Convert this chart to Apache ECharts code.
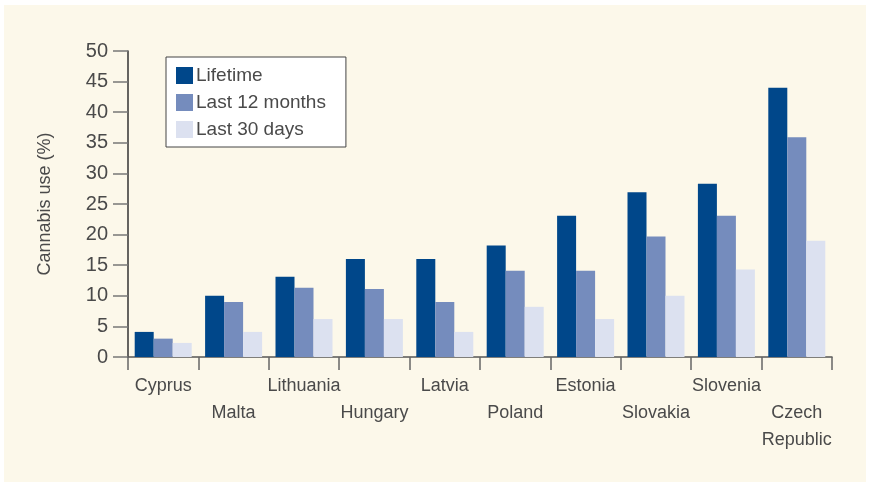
<!DOCTYPE html>
<html>
<head>
<meta charset="utf-8">
<script src="https://cdn.jsdelivr.net/npm/echarts@6/dist/echarts.min.js"></script>
<style>
	body { margin: 0; background: #ffffff; }
	.panel { position: absolute; left: 4px; top: 5px; width: 862px; height: 477px; background: #fcf8ea; }
	#chart { position: absolute; left: 0; top: 0; width: 870px; height: 486px; }
</style>
</head>
<body>
<div class="panel"></div>
<div id="chart"></div>
<script>
// countries, left to right
const countries = ['Cyprus', 'Malta', 'Lithuania', 'Hungary', 'Latvia', 'Poland', 'Estonia', 'Slovakia', 'Slovenia', 'Czech\nRepublic'];
const lifetime = [4.1, 10, 13.1, 16, 16, 18.2, 23.1, 26.9, 28.3, 44];
const last12 = [3.0, 9, 11.3, 11.1, 9, 14.1, 14.1, 19.7, 23.1, 35.9];
const last30 = [2.3, 4.1, 6.2, 6.2, 4.1, 8.2, 6.2, 10, 14.3, 19];
const yTicks = [0, 5, 10, 15, 20, 25, 30, 35, 40, 45, 50];

const colors = ['#00478a', '#758cbd', '#dce1f0'];
const font = 'Liberation Sans';

const chart = echarts.init(document.getElementById('chart'));

const bar = (name, data, i) => ({
	name: name,
	type: 'bar',
	data: data,
	barWidth: 19,
	barGap: '0%',
	itemStyle: { color: colors[i] },
});

chart.setOption({
	animation: false,
	textStyle: { fontFamily: font },
	legend: {
		orient: 'vertical',
		left: 166,
		top: 57,
		padding: [9, 20, 8, 10],
		itemGap: 8,
		itemWidth: 17,
		itemHeight: 17,
		icon: 'rect',
		backgroundColor: '#ffffff',
		borderColor: '#444444',
		borderWidth: 1,
		textStyle: { fontFamily: font, fontSize: 19, color: '#4a4a4a', padding: [0, 0, 0, -2] },
		data: ['Lifetime', 'Last 12 months', 'Last 30 days'],
	},
	grid: { left: 128, right: 38, top: 51, bottom: 129 },
	xAxis: {
		type: 'category',
		data: countries,
		axisLine: { lineStyle: { color: '#555555', width: 1.5 } },
		axisTick: { show: true, interval: 0, length: 13, lineStyle: { color: '#666666', width: 1.5 } },
		axisLabel: {
			interval: 0,
			margin: 16,
			fontSize: 18,
			lineHeight: 27,
			color: '#4a4a4a',
			formatter: (v, i) => (i % 2 === 1 ? '\n' + v : v),
		},
	},
	yAxis: {
		type: 'value',
		min: yTicks[0],
		max: yTicks[yTicks.length - 1],
		interval: 5,
		name: 'Cannabis use (%)',
		nameLocation: 'middle',
		nameGap: 74,
		nameTextStyle: { fontFamily: font, fontSize: 18, color: '#4a4a4a' },
		splitLine: { show: false },
		axisLine: { show: true, lineStyle: { color: '#333333', width: 1.5 } },
		axisTick: { show: true, length: 15, lineStyle: { color: '#777777', width: 1.5 } },
		axisLabel: { fontSize: 20, color: '#4a4a4a', margin: 20 },
	},
	series: [
		bar('Lifetime', lifetime, 0),
		bar('Last 12 months', last12, 1),
		bar('Last 30 days', last30, 2),
	],
});
</script>
</body>
</html>
